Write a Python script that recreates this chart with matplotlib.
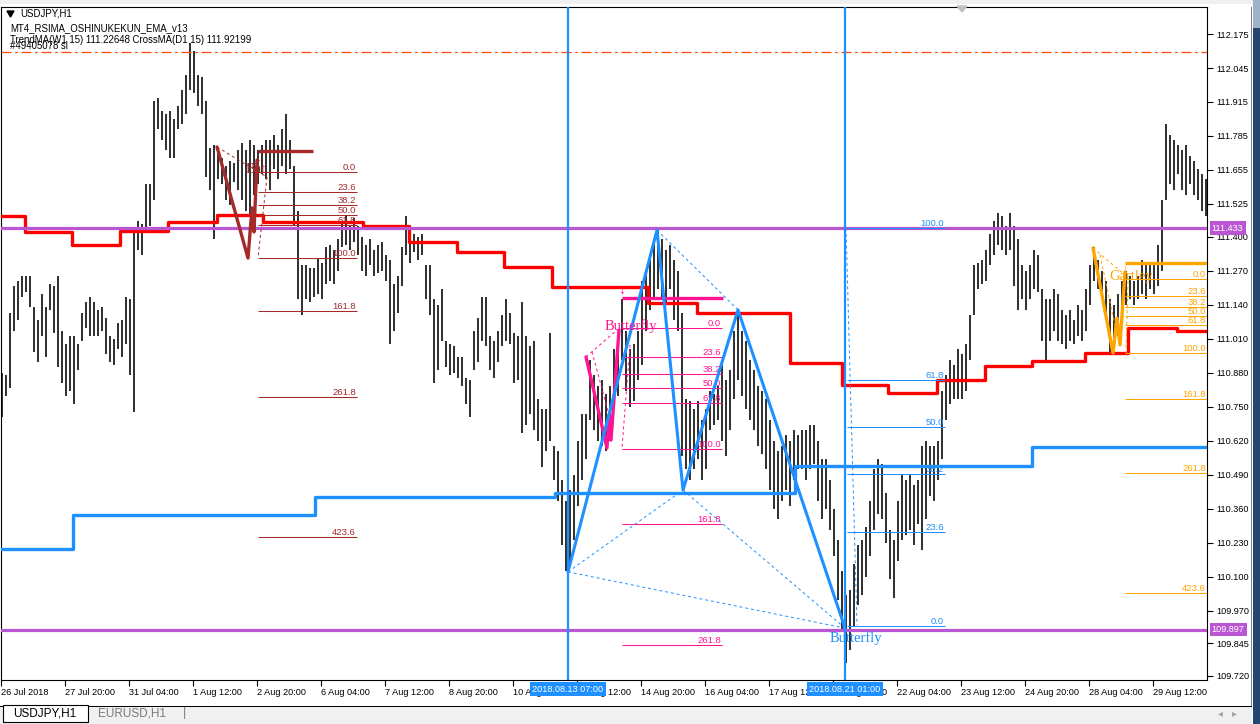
import matplotlib.pyplot as plt
import matplotlib.transforms as mtransforms
from matplotlib.patches import Rectangle, Polygon

plt.rcParams['font.family'] = ['Liberation Sans', 'DejaVu Sans']

# chart x unit = one H1 bar (hour index), drawn bars are 2-hour bars
highs = [
    110.88, 110.87, 111.11, 111.21, 111.23, 111.25, 111.25, 111.25, 111.13, 111.08,
    111.18, 111.13, 111.22, 111.21, 111.25, 111.04, 110.99, 111.02, 111.02, 110.99,
    111.11, 111.15, 111.17, 111.15, 111.12, 111.13, 111.09, 111.02, 111.01, 111.07,
    111.08, 111.17, 111.16, 111.43, 111.46, 111.45, 111.60, 111.60, 111.92, 111.93,
    111.88, 111.87, 111.88, 111.85, 111.90, 111.96, 112.02, 112.14, 112.11, 112.02,
    112.01, 111.92, 111.74, 111.75, 111.73, 111.70, 111.67, 111.69, 111.68, 111.73,
    111.76, 111.73, 111.77, 111.75, 111.73, 111.75, 111.77, 111.77, 111.79, 111.75,
    111.81, 111.87, 111.77, 111.67, 111.50, 111.29, 111.29, 111.28, 111.28, 111.32,
    111.30, 111.36, 111.37, 111.35, 111.39, 111.46, 111.48, 111.44, 111.47, 111.44,
    111.40, 111.37, 111.39, 111.35, 111.37, 111.38, 111.33, 111.31, 111.22, 111.25,
    111.36, 111.48, 111.44, 111.41, 111.40, 111.41, 111.29, 111.29, 111.16, 111.14,
    111.20, 111.00, 110.99, 110.98, 110.94, 110.94, 110.86, 110.85, 111.04, 111.09,
    111.17, 111.17, 111.02, 111.00, 111.04, 111.10, 111.16, 111.11, 111.03, 111.02,
    111.15, 111.02, 110.98, 111.00, 110.78, 110.74, 110.74, 111.03, 110.60, 110.58,
    110.47, 110.39, 110.43, 110.49, 110.62, 110.72, 110.72, 110.93, 110.87, 110.83,
    110.85, 110.80, 110.83, 110.97, 111.02, 111.16, 111.04, 110.97, 110.99, 111.04,
    111.23, 111.27, 111.33, 111.39, 111.43, 111.39, 111.35, 111.37, 111.31, 111.27,
    111.11, 110.78, 110.77, 110.74, 110.77, 110.70, 110.74, 110.81, 110.80, 110.83,
    110.91, 110.85, 110.89, 111.04, 111.11, 111.04, 111.00, 110.93, 110.89, 110.83,
    110.81, 110.78, 110.70, 110.62, 110.58, 110.60, 110.64, 110.62, 110.66, 110.64,
    110.66, 110.66, 110.68, 110.68, 110.62, 110.55, 110.55, 110.47, 110.36, 110.24,
    110.12, 110.03, 110.05, 110.15, 110.22, 110.24, 110.29, 110.39, 110.51, 110.55,
    110.53, 110.42, 110.28, 110.24, 110.39, 110.49, 110.47, 110.49, 110.45, 110.47,
    110.60, 110.62, 110.60, 110.60, 110.62, 110.81, 110.87, 110.93, 110.91, 110.97,
    110.95, 110.99, 111.10, 111.29, 111.30, 111.31, 111.35, 111.41, 111.46, 111.49,
    111.48, 111.44, 111.49, 111.44, 111.39, 111.29, 111.27, 111.29, 111.35, 111.33,
    111.20, 111.16, 111.16, 111.20, 111.18, 111.12, 111.10, 111.12, 111.08, 111.14,
    111.12, 111.20, 111.29, 111.36, 111.31, 111.27, 111.23, 111.16, 111.14, 111.18,
    111.23, 111.27, 111.25, 111.23, 111.25, 111.31, 111.29, 111.30, 111.29, 111.37,
    111.54, 111.83, 111.79, 111.77, 111.75, 111.73, 111.75, 111.71, 111.69, 111.66,
    111.64, 111.62]
lows = [
    110.71, 110.79, 110.82, 111.04, 111.08, 111.17, 111.19, 111.13, 110.96, 110.92,
    111.02, 110.94, 111.12, 111.03, 110.90, 110.84, 110.79, 110.81, 110.76, 110.89,
    111.00, 111.05, 111.02, 111.02, 111.02, 111.04, 110.95, 110.92, 110.91, 110.97,
    110.94, 110.99, 110.87, 110.73, 111.35, 111.33, 111.43, 111.44, 111.54, 111.81,
    111.77, 111.73, 111.70, 111.70, 111.81, 111.83, 111.87, 111.96, 111.95, 111.90,
    111.87, 111.63, 111.58, 111.39, 111.62, 111.60, 111.54, 111.52, 111.61, 111.58,
    111.54, 111.50, 111.48, 111.56, 111.60, 111.64, 111.62, 111.58, 111.66, 111.62,
    111.67, 111.64, 111.66, 111.44, 111.16, 111.10, 111.16, 111.15, 111.17, 111.18,
    111.16, 111.22, 111.23, 111.22, 111.27, 111.36, 111.37, 111.35, 111.38, 111.33,
    111.27, 111.25, 111.29, 111.25, 111.26, 111.27, 111.23, 110.99, 111.04, 111.11,
    111.21, 111.33, 111.30, 111.34, 111.31, 111.33, 111.16, 111.10, 110.84, 110.89,
    111.00, 110.90, 110.87, 110.88, 110.86, 110.83, 110.76, 110.71, 110.89, 110.92,
    111.00, 110.98, 110.89, 110.86, 110.92, 110.98, 111.00, 110.99, 110.84, 110.85,
    110.65, 110.68, 110.72, 110.66, 110.62, 110.52, 110.58, 110.62, 110.47, 110.39,
    110.22, 110.12, 110.14, 110.24, 110.37, 110.47, 110.55, 110.70, 110.66, 110.62,
    110.60, 110.58, 110.62, 110.75, 110.79, 110.93, 110.81, 110.75, 110.77, 110.85,
    110.91, 111.04, 111.12, 111.16, 111.20, 111.16, 111.14, 111.20, 111.08, 111.04,
    110.56, 110.51, 110.47, 110.51, 110.55, 110.47, 110.51, 110.66, 110.68, 110.70,
    110.62, 110.56, 110.66, 110.78, 110.85, 110.79, 110.74, 110.70, 110.66, 110.60,
    110.57, 110.51, 110.43, 110.36, 110.32, 110.39, 110.43, 110.37, 110.47, 110.51,
    110.51, 110.47, 110.51, 110.53, 110.39, 110.32, 110.36, 110.28, 110.18, 110.01,
    109.89, 109.77, 109.82, 109.91, 109.99, 110.03, 110.10, 110.18, 110.28, 110.34,
    110.32, 110.23, 110.09, 110.02, 110.16, 110.24, 110.26, 110.28, 110.22, 110.30,
    110.20, 110.32, 110.41, 110.39, 110.47, 110.55, 110.70, 110.76, 110.78, 110.78,
    110.78, 110.81, 110.93, 111.10, 111.20, 111.22, 111.23, 111.29, 111.33, 111.37,
    111.35, 111.33, 111.35, 111.21, 111.12, 111.16, 111.12, 111.16, 111.20, 111.19,
    111.00, 110.93, 111.00, 111.04, 111.00, 110.99, 110.97, 111.00, 110.99, 111.02,
    111.00, 111.04, 111.14, 111.23, 111.20, 111.16, 111.08, 110.96, 111.00, 111.02,
    111.08, 111.14, 111.16, 111.14, 111.16, 111.18, 111.16, 111.20, 111.18, 111.21,
    111.27, 111.54, 111.60, 111.58, 111.64, 111.58, 111.56, 111.60, 111.56, 111.54,
    111.50, 111.48]
bar_x = [2 * i + 1 for i in range(len(highs))]

# CrossMA (D1) red step line and TrendMA (W1) blue step line
red_start = [0, 12.5, 36, 60, 84, 108.5, 131.5, 181.5, 204.5, 228.5, 252, 276,
             324, 348.5, 395, 421, 444, 468.5, 492.5, 516, 542.5, 564, 588.5]
red_level = [111.479, 111.418, 111.368, 111.422, 111.456, 111.483, 111.456, 111.441,
             111.380, 111.341, 111.284, 111.208, 111.146, 111.108, 110.917, 110.833,
             110.802, 110.852, 110.905, 110.925, 110.955, 111.051, 111.039]
blue_start = [0, 36.5, 157.5, 277.5, 397.5, 516]
blue_level = [110.206, 110.336, 110.404, 110.420, 110.523, 110.596]

sl_price = 112.106
purple_levels = [111.433, 109.897]
vline_x = [284, 422.5]
vline_labels = ["2018.08.13 07:00", "2018.08.21 01:00"]

price_ticks = [112.175, 112.045, 111.915, 111.785, 111.655, 111.525, 111.400, 111.270,
               111.140, 111.010, 110.880, 110.750, 110.620, 110.490, 110.360, 110.230,
               110.100, 109.970, 109.845, 109.720]
price_labels = ["%.3f" % p for p in price_ticks]
time_ticks = [0.5, 32.5, 64.5, 96.5, 128.5, 160.5, 192.5, 224.5, 256.5, 288.5, 320.5,
              352.5, 384.5, 416.5, 448.5, 480.5, 512.5, 544.5, 576.5]
time_labels = ["26 Jul 2018", "27 Jul 20:00", "31 Jul 04:00", "1 Aug 12:00",
               "2 Aug 20:00", "6 Aug 04:00", "7 Aug 12:00", "8 Aug 20:00",
               "10 Aug 04:00", "13 Aug 12:00", "14 Aug 20:00", "16 Aug 04:00",
               "17 Aug 12:00", "20 Aug 20:00", "22 Aug 04:00", "23 Aug 12:00",
               "24 Aug 20:00", "28 Aug 04:00", "29 Aug 12:00"]

# harmonic patterns
bat_t = [108.5, 124, 126, 127, 128.5]
bat_p = [111.743, 111.318, 111.510, 111.418, 111.693]
bat_dash = [([108.5, 133.5], [111.743, 111.628]), ([133.5, 129], [111.628, 111.318])]
bat_fib = (129, 178.5, 111.647, 111.318)
bat_target = (129, 156.5, 111.728)

pink_t = [293, 303.5, 304.5, 305.5, 309.5]
pink_p = [110.940, 110.592, 110.718, 110.622, 111.043]
pink_dash = [([293, 308.5], [110.940, 111.043]), ([296, 304.5], [110.960, 110.718]),
             ([315, 311], [110.986, 110.592])]
pink_fib = (311, 361, 111.051, 110.588)
pink_target = (311, 361.5, 111.165)

blue_t = [284, 328.5, 341.5, 369, 422.5]
blue_p = [110.118, 111.425, 110.431, 111.120, 109.903]
blue_dash = [([284, 341.5], [110.118, 110.431]), ([328.5, 369], [111.425, 111.120]),
             ([341.5, 422.5], [110.431, 109.903]), ([284, 422.5], [110.118, 109.903]),
             ([423, 428.5], [111.433, 109.914])]
blue_fib = (423.5, 472.5, 109.911, 111.433)

gart_t = [546.5, 556.5, 558.5, 560, 562.5]
gart_p = [111.357, 110.955, 111.089, 110.986, 111.265]
gart_dash = [([546.5, 562.5], [111.357, 111.253]), ([550, 558], [111.330, 111.043]),
             ([564, 563], [111.230, 110.955])]
gart_fib = (562.5, 603.5, 111.238, 110.955)
gart_target = (562.5, 603.5, 111.299)

fib_all = [0.0, 23.6, 38.2, 50.0, 61.8, 100.0, 161.8, 261.8, 423.6]

BROWN, PINK, BLUE, ORANGE = '#a52a2a', '#ff1493', '#1e90ff', '#ffa500'
RED, PURPLE = '#ff0000', '#ba55d3'

W, H = 1260, 724
fig = plt.figure(figsize=(W / 100, H / 100), dpi=100)
fig.patch.set_facecolor('white')


def px_rect(x, y, w, h, **kw):
    fig.add_artist(Rectangle((x / W, 1 - (y + h) / H), w / W, h / H,
                             transform=fig.transFigure, **kw))


# window chrome
px_rect(0, 0, W, 4, color='#f0f0f0', lw=0)
px_rect(0, 707, 1252, 17, color='#f0f0f0', lw=0)
px_rect(0, 706, 1252, 1, color='black', lw=0)
px_rect(3, 705, 85, 17, facecolor='white', edgecolor='black', lw=0.8)
px_rect(1251, 7, 1, 699, color='#808080', lw=0)
px_rect(1253, 0, 7, 28, color='#9fb3c8', lw=0)
px_rect(1253, 28, 7, 696, color='#27466e', lw=0)
fig.text(45 / W, 1 - 714 / H, "USDJPY,H1", fontsize=8.5, ha='center', va='center')
fig.text(98 / W, 1 - 714 / H, "EURUSD,H1", fontsize=8.5, color='#7a7a7a', va='center')
fig.text(183 / W, 1 - 713 / H, "|", fontsize=9, color='#7a7a7a', va='center')
fig.text(1218 / W, 1 - 713 / H, "\u25c2", fontsize=7, color='#a0a0a0', va='center')
fig.text(1232 / W, 1 - 713 / H, "\u25b8", fontsize=7, color='#a0a0a0', va='center')

ax = fig.add_axes([1 / W, 1 - 680 / H, 1206 / W, 673 / H])
ax.set_xlim(0.5, 603.5)
ax.set_ylim(109.7046, 112.2783)
for s in ax.spines.values():
    s.set_linewidth(0.8)

# price bars
ax.vlines(bar_x, lows, highs, color='black', lw=1.15, zorder=2)

# moving averages
ax.step(red_start + [603.5], red_level + [red_level[-1]], where='post',
        color=RED, lw=2.4, zorder=3)
ax.step(blue_start + [603.5], blue_level + [blue_level[-1]], where='post',
        color=BLUE, lw=2.4, zorder=3)

# horizontal / vertical lines
ax.axhline(sl_price, color='#ff4500', lw=0.9, ls=(0, (8, 3, 2, 3)), zorder=3)
for p in purple_levels:
    ax.axhline(p, color=PURPLE, lw=2.3, zorder=3)
for x in vline_x:
    ax.axvline(x, color=BLUE, lw=1.6, zorder=3)


def fib(spec, levels, color):
    h0, h1, p0, p100 = spec
    for lv in levels:
        p = p0 + (p100 - p0) * lv / 100
        ax.hlines(p, h0, h1, color=color, lw=0.75, zorder=4)
        ax.text(h1 - 0.5, p, "%.1f" % lv, color=color, fontsize=6.8,
                ha='right', va='bottom', zorder=5, clip_on=False)


def pattern(ts, ps, dashes, color, lw):
    ax.plot(ts, ps, color=color, lw=lw, zorder=5, solid_capstyle='round')
    for dx, dy in dashes:
        ax.plot(dx, dy, color=color, lw=0.7, ls=(0, (3, 3)), zorder=5)


pattern(bat_t, bat_p, bat_dash, BROWN, 2.4)
fib(bat_fib, fib_all, BROWN)
ax.hlines(bat_target[2], bat_target[0], bat_target[1], color=BROWN, lw=2.4, zorder=5)
ax.text(bat_target[0], bat_target[2], "\u2193", color=BROWN, fontsize=10,
        fontweight='bold', ha='center', va='top', zorder=6)
ax.text(128, 111.655, "Bat", color=BROWN, fontsize=10.5, family='Liberation Serif',
        ha='center', va='center', zorder=6)

pattern(pink_t, pink_p, pink_dash, PINK, 2.4)
fib(pink_fib, fib_all[:8], PINK)
ax.hlines(pink_target[2], pink_target[0], pink_target[1], color=PINK, lw=2.4, zorder=5)
ax.text(pink_target[0], pink_target[2] + 0.005, "\u2193", color=PINK, fontsize=10,
        fontweight='bold', ha='center', va='bottom', zorder=6)
ax.text(315.5, 111.058, "Butterfly", color=PINK, fontsize=10.5,
        family='Liberation Serif', ha='center', va='center', zorder=6)

pattern(blue_t, blue_p, blue_dash, BLUE, 2.2)
fib(blue_fib, fib_all[:6], BLUE)
ax.text(428, 109.865, "Butterfly", color=BLUE, fontsize=10.5,
        family='Liberation Serif', ha='center', va='center', zorder=6)

pattern(gart_t, gart_p, gart_dash, ORANGE, 2.4)
fib(gart_fib, fib_all, ORANGE)
ax.hlines(gart_target[2], gart_target[0], gart_target[1], color=ORANGE, lw=2.4, zorder=5)
ax.text(gart_target[0], gart_target[2], "\u2193", color=ORANGE, fontsize=10,
        fontweight='bold', ha='center', va='top', zorder=6)
ax.text(565.5, 111.246, "Gartley", color=ORANGE, fontsize=10.5,
        family='Liberation Serif', ha='center', va='center', zorder=6)

# axes ticks
ax.yaxis.tick_right()
ax.set_yticks(price_ticks, price_labels)
ax.tick_params(axis='y', direction='out', length=4, width=0.8, pad=2.5, labelsize=6.6)
ax.set_xticks(time_ticks, time_labels)
ax.tick_params(axis='x', direction='out', length=4, width=0.8, pad=1.5, labelsize=6.6)
for lbl in ax.get_xticklabels():
    lbl.set_horizontalalignment('left')

xtrans = mtransforms.blended_transform_factory(ax.transData, ax.transAxes)
for x, lab in zip(vline_x, vline_labels):
    ax.text(x, -0.0135, lab, transform=xtrans, fontsize=6.6, color='white',
            ha='center', va='center', zorder=10, clip_on=False,
            bbox=dict(boxstyle='square,pad=0.25', facecolor=BLUE, edgecolor='none'))

ytrans = mtransforms.blended_transform_factory(ax.transAxes, ax.transData)
for p in purple_levels:
    ax.text(1.004, p, "%.3f" % p, transform=ytrans, fontsize=6.6, color='white',
            ha='left', va='center', zorder=10, clip_on=False,
            bbox=dict(boxstyle='square,pad=0.25', facecolor=PURPLE, edgecolor='none'))

# top-left info texts and chart shift marker
fig.add_artist(Polygon([(7 / W, 1 - 11 / H), (14 / W, 1 - 11 / H), (10.5 / W, 1 - 17 / H)],
                       closed=True, color='black', transform=fig.transFigure))
fig.text(20 / W, 1 - 14 / H, "USDJPY,H1", fontsize=6.9, va='center')
fig.text(10 / W, 1 - 28 / H, "MT4_RSIMA_OSHINUKEKUN_EMA_v13", fontsize=6.9, va='center')
fig.text(10 / W, 1 - 40 / H, "TrendMA(W1 15) 111.22648 CrossMA(D1 15) 111.92199",
         fontsize=6.9, va='center')
fig.text(10 / W, 1 - 46 / H, "#49405078 sl", fontsize=6.9, va='center')
fig.add_artist(Polygon([(957 / W, 1 - 6 / H), (967 / W, 1 - 6 / H), (962 / W, 1 - 12 / H)],
                       closed=True, color='#c0c0c0', transform=fig.transFigure))

fig.savefig('out.png', dpi=100)
